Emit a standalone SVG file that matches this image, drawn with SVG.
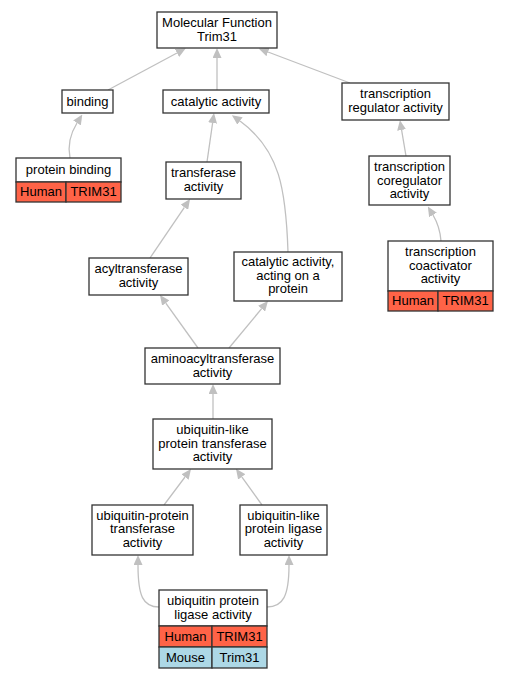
<svg xmlns="http://www.w3.org/2000/svg" width="508" height="680" viewBox="0 0 508 680">
<style>
.b{fill:#fff;stroke:#333;stroke-width:1.3}
.h{fill:#ff6347;stroke:#333;stroke-width:1.3}
.m{fill:#add8e6;stroke:#333;stroke-width:1.3}
text{font-family:"Liberation Sans",Arial,sans-serif;font-size:13px;fill:#000;text-anchor:middle}
.e path{fill:none;stroke:#c0c0c0;stroke-width:1.3;marker-end:url(#a)}
</style>
<defs>
<marker id="a" markerUnits="userSpaceOnUse" markerWidth="10" markerHeight="9" refX="0" refY="4.5" orient="auto" viewBox="0 0 10 9">
<path d="M0,0 L10,4.5 L0,9 Z" fill="#c0c0c0"/>
</marker>
</defs>
<g class="e" id="edges">
<path d="M108,90 L177,53"/>
<path d="M217,90 L217,58"/>
<path d="M350,83 L268,52"/>
<path d="M70,158 C67,143 72,131 77,123"/>
<path d="M207,162 L212.6,123"/>
<path d="M288,252 C286,190 280,150 240,121"/>
<path d="M406,156 L401.6,130"/>
<path d="M441,241 C440,228 436,220 433,215"/>
<path d="M150,258 L184.4,207.3"/>
<path d="M198,348 L165.8,303.1"/>
<path d="M229,348 L261.6,308.7"/>
<path d="M213,419 L213,394"/>
<path d="M164,505 L185,477"/>
<path d="M262,505 L241.8,476.9"/>
<path d="M159,607 C143,607 138,596 138,565"/>
<path d="M267,607 C283,607 289,596 289,565"/>
</g>
<g id="n_mf"><rect class="b" x="157" y="12" width="120" height="36"/><text x="217" y="27">Molecular Function</text><text x="217" y="41">Trim31</text></g>
<g id="n_binding"><rect class="b" x="62" y="90" width="51" height="23"/><text x="87.5" y="106">binding</text></g>
<g id="n_catalytic"><rect class="b" x="163" y="90" width="106" height="23"/><text x="216" y="106">catalytic activity</text></g>
<g id="n_treg"><rect class="b" x="342" y="83" width="107" height="37"/><text x="395.5" y="98">transcription</text><text x="395.5" y="112">regulator activity</text></g>
<g id="n_pbind"><rect class="b" x="16" y="158" width="105" height="24"/><text x="68.5" y="174">protein binding</text>
<rect class="h" x="16" y="182" width="50" height="20"/><text x="41" y="196">Human</text>
<rect class="h" x="66" y="182" width="55" height="20"/><text x="93.5" y="196">TRIM31</text></g>
<g id="n_transferase"><rect class="b" x="166" y="162" width="75" height="37"/><text x="203.5" y="177">transferase</text><text x="203.5" y="191">activity</text></g>
<g id="n_tcoreg"><rect class="b" x="369" y="156" width="81" height="49"/><text x="409.5" y="171">transcription</text><text x="409.5" y="184.5">coregulator</text><text x="409.5" y="198">activity</text></g>
<g id="n_acyl"><rect class="b" x="89" y="258" width="99" height="37"/><text x="138.5" y="273">acyltransferase</text><text x="138.5" y="287">activity</text></g>
<g id="n_catprot"><rect class="b" x="234" y="252" width="108" height="49"/><text x="288" y="266">catalytic activity,</text><text x="288" y="279.5">acting on a</text><text x="288" y="293">protein</text></g>
<g id="n_tcoact"><rect class="b" x="388" y="241" width="105" height="50"/><text x="440.5" y="255.5">transcription</text><text x="440.5" y="269.5">coactivator</text><text x="440.5" y="283">activity</text>
<rect class="h" x="388" y="291" width="50" height="20"/><text x="413" y="305">Human</text>
<rect class="h" x="438" y="291" width="55" height="20"/><text x="465.5" y="305">TRIM31</text></g>
<g id="n_aminoacyl"><rect class="b" x="145" y="348" width="135" height="36"/><text x="212.5" y="363">aminoacyltransferase</text><text x="212.5" y="376.5">activity</text></g>
<g id="n_ubltrans"><rect class="b" x="153" y="419" width="119" height="50"/><text x="212.5" y="434">ubiquitin-like</text><text x="212.5" y="447.5">protein transferase</text><text x="212.5" y="461">activity</text></g>
<g id="n_ubptrans"><rect class="b" x="92" y="505" width="101" height="50"/><text x="142.5" y="519.5">ubiquitin-protein</text><text x="142.5" y="533">transferase</text><text x="142.5" y="546.5">activity</text></g>
<g id="n_ublig"><rect class="b" x="240" y="505" width="87" height="50"/><text x="283.5" y="519.5">ubiquitin-like</text><text x="283.5" y="533">protein ligase</text><text x="283.5" y="546.5">activity</text></g>
<g id="n_ubplig"><rect class="b" x="159" y="590" width="108" height="36"/><text x="213" y="605">ubiquitin protein</text><text x="213" y="618.5">ligase activity</text>
<rect class="h" x="159" y="626" width="53" height="21"/><text x="185.5" y="641">Human</text>
<rect class="h" x="212" y="626" width="55" height="21"/><text x="239.5" y="641">TRIM31</text>
<rect class="m" x="159" y="647" width="53" height="21"/><text x="185.5" y="662">Mouse</text>
<rect class="m" x="212" y="647" width="55" height="21"/><text x="239.5" y="662">Trim31</text></g>
</svg>
